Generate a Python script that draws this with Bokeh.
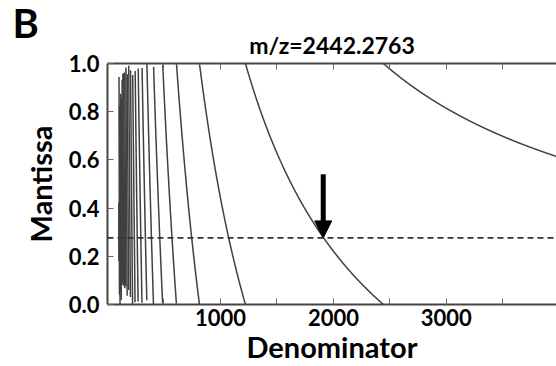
import numpy as np
from bokeh.plotting import figure
from bokeh.models import Span, FixedTicker, LinearAxis, Arrow, NormalHead, ColumnDataSource, Title
from bokeh.embed import file_html
from bokeh.resources import INLINE

# chart parameters
MZ = 2442.2763
DENOM_MIN = 100
DENOM_MAX = 3975
MZ_MANTISSA = 0.2763
ARROW_DENOM = 1910
ARROW_TOP = 0.54
ARROW_TIP = 0.2763
X_TICKS = [1000, 2000, 3000]
X_MINOR = [500, 1500, 2500, 3500]
Y_TICKS = [0.0, 0.2, 0.4, 0.6, 0.8, 1.0]

# mantissa of m/z divided by integer denominator, split into branches
d = np.arange(DENOM_MIN, DENOM_MAX + 1)
q = MZ / d
mant = q - np.floor(q)
branch = np.floor(q)
xs, ys = [], []
for b in np.unique(branch):
    m = branch == b
    xs.append(d[m].tolist())
    ys.append(mant[m].tolist())
src = ColumnDataSource(dict(xs=xs, ys=ys))

FONT = "Lato"
p = figure(width=556, height=366, output_backend="svg", toolbar_location=None,
           x_range=(0, DENOM_MAX), y_range=(0, 1), title_location=None,
           min_border_left=107, min_border_right=0, min_border_top=63, min_border_bottom=59,
           x_axis_location=None, y_axis_location=None)
p.outline_line_color = None
p.grid.visible = False
p.background_fill_color = "white"

p.multi_line("xs", "ys", source=src, line_color="#404040", line_width=1.5)

p.add_layout(Span(location=MZ_MANTISSA, dimension="width", line_color="#333333",
                  line_width=1.6, line_dash="6 4"))

# arrow
p.segment(x0=[ARROW_DENOM], y0=[ARROW_TOP], x1=[ARROW_DENOM], y1=[ARROW_TIP + 0.07],
          line_color="black", line_width=5)
p.add_layout(Arrow(end=NormalHead(size=17, fill_color="black", line_color="black"),
                   x_start=ARROW_DENOM, y_start=ARROW_TIP + 0.08, x_end=ARROW_DENOM, y_end=ARROW_TIP,
                   line_alpha=0, line_width=0))

def style(ax, labels=True):
    ax.axis_line_color = "#444444"
    ax.axis_line_width = 2
    ax.major_tick_in = 6
    ax.major_tick_out = 0
    ax.minor_tick_in = 6
    ax.minor_tick_out = 0
    ax.major_tick_line_color = "#666666"
    ax.minor_tick_line_color = "#666666"
    ax.major_label_text_font = FONT
    ax.major_label_text_font_style = "bold"
    ax.major_label_text_font_size = "22px"
    ax.major_label_text_color = "black" if labels else None
    ax.axis_label_text_font = FONT
    ax.axis_label_text_font_style = "bold"
    ax.axis_label_text_font_size = "29px"
    ax.axis_label_text_color = "black"

xb = LinearAxis(ticker=FixedTicker(ticks=X_TICKS, minor_ticks=X_MINOR), axis_label="Denominator")
style(xb)
xb.major_label_standoff = 4
xb.axis_label_standoff = 0
p.add_layout(xb, "below")

xt = LinearAxis(ticker=FixedTicker(ticks=X_TICKS, minor_ticks=X_MINOR))
style(xt, labels=False)
xt.major_label_text_font_size = "0px"
xt.major_label_standoff = 0
p.add_layout(xt, "above")

yl = LinearAxis(ticker=FixedTicker(ticks=Y_TICKS), axis_label="Mantissa")
style(yl)
yl.minor_tick_line_color = None
yl.major_label_standoff = 8
yl.axis_label_standoff = 8
yl.major_label_overrides = {0.0: "0.0", 1.0: "1.0"}
p.add_layout(yl, "left")

mz_title = Title(text="m/z=2442.2763", align="center", offset=-3, text_font=FONT,
                 text_font_style="bold", text_font_size="23px", text_color="black", standoff=10)
p.add_layout(mz_title, "above")

b_title = Title(text="B", align="left", offset=-95, text_font=FONT,
                text_font_style="bold", text_font_size="40px", text_color="black")
try:
    b_title.standoff = -47
except Exception:
    b_title.standoff = 0
p.add_layout(b_title, "above")

open("out.html", "w").write(file_html(p, INLINE))
